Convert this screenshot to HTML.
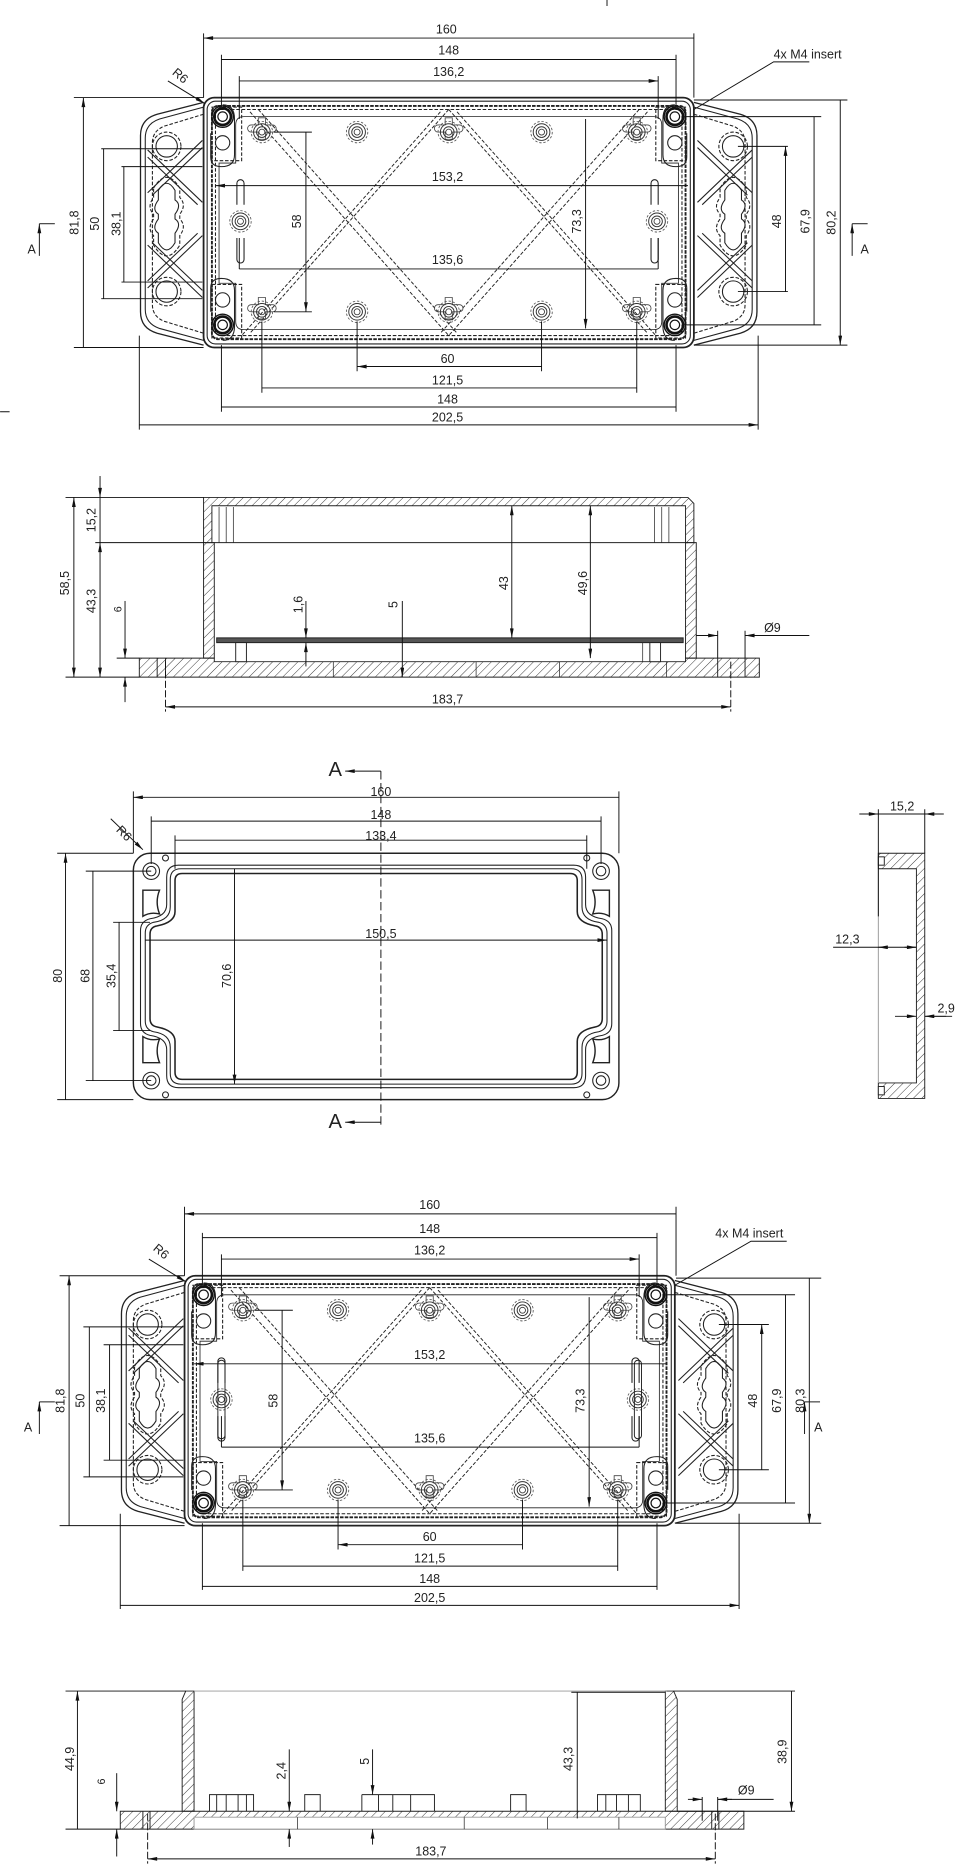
<!DOCTYPE html>
<html><head><meta charset="utf-8"><style>
html,body{margin:0;padding:0;background:#fff}
svg{display:block}
text{font-family:"Liberation Sans",sans-serif;font-size:10.5px;fill:#222}
</style></head><body>
<svg width="976" height="1866" viewBox="0 0 820 1568" xmlns="http://www.w3.org/2000/svg">
<defs>
<marker id="a" viewBox="0 0 10 4" refX="10" refY="2" markerWidth="9" markerHeight="3.2" orient="auto-start-reverse" markerUnits="userSpaceOnUse"><path d="M0,0L10,2L0,4z" fill="#111"/></marker>
<pattern id="h" width="5" height="5" patternUnits="userSpaceOnUse" patternTransform="rotate(45)"><line x1="0" y1="0" x2="0" y2="5" stroke="#333" stroke-width="0.8"/></pattern>
<g id="boss"><circle r="7" fill="none" stroke="#333" stroke-width="0.8"/><circle r="4.5" fill="none" stroke="#333" stroke-width="0.8"/><circle r="2.5" fill="none" stroke="#333" stroke-width="0.7"/><circle r="9" fill="none" stroke="#555" stroke-width="0.7" stroke-dasharray="2 1.5"/></g>
<g id="cboss"><path d="M-3,-12 h6 v6 h6 a3,3 0 0 1 0,6 h-6 v6 h-6 v-6 h-6 a3,3 0 0 1 0,-6 h6z" fill="none" stroke="#444" stroke-width="0.7"/><use href="#boss"/></g>
<g id="ins"><circle r="9" fill="none" stroke="#111" stroke-width="1.2"/><circle r="7" fill="none" stroke="#111" stroke-width="2.2"/><circle r="4" fill="none" stroke="#111" stroke-width="1"/></g>
<g id="plan" fill="none" stroke="#222" stroke-width="0.9">
 <path d="M171,86 L132,96 Q118,100 118,114 L118,262 Q118,276 132,280 L171,290" stroke-width="1.1"/>
 <path d="M171,90 L134,100 Q122,104 122,116 L122,260 Q122,272 134,276 L171,286"/>
 <path d="M171,96 L138,106 Q128,110 128,120 L128,256 Q128,266 138,270 L171,280" stroke-dasharray="3 1.5"/>
 <path d="M583,86 L622,96 Q636,100 636,114 L636,262 Q636,276 622,280 L583,290" stroke-width="1.1"/>
 <path d="M583,90 L620,100 Q632,104 632,116 L632,260 Q632,272 620,276 L583,286"/>
 <path d="M583,96 L616,106 Q626,110 626,120 L626,256 Q626,266 616,270 L583,280" stroke-dasharray="3 1.5"/>
 <circle cx="140" cy="123" r="9"/><circle cx="140" cy="123" r="12" stroke-dasharray="3 1.5"/>
 <circle cx="140" cy="245" r="9"/><circle cx="140" cy="245" r="12" stroke-dasharray="3 1.5"/>
 <circle cx="616" cy="123" r="9"/><circle cx="616" cy="123" r="12" stroke-dasharray="3 1.5"/>
 <circle cx="616" cy="245" r="9"/><circle cx="616" cy="245" r="12" stroke-dasharray="3 1.5"/>
 <path d="M133,160 q7,-12 14,0 v8 q6,4 0,12 v4 q6,4 0,12 v8 q-7,12 -14,0 v-8 q-6,-4 0,-12 v-4 q-6,-4 0,-12z"/>
 <path d="M129,158 q11,-18 22,0 v8 q6,6 0,14 v4 q6,6 0,14 v8 q-11,18 -22,0 v-8 q-6,-6 0,-14 v-4 q-6,-6 0,-14z" stroke-dasharray="3 1.5"/>
 <path d="M609,160 q7,-12 14,0 v8 q6,4 0,12 v4 q6,4 0,12 v8 q-7,12 -14,0 v-8 q-6,-4 0,-12 v-4 q-6,-4 0,-12z"/>
 <path d="M605,158 q11,-18 22,0 v8 q6,6 0,14 v4 q6,6 0,14 v8 q-11,18 -22,0 v-8 q-6,-6 0,-14 v-4 q-6,-6 0,-14z" stroke-dasharray="3 1.5"/>
 <path d="M124,126 L170,170 M124,132 L166,172 M170,118 L124,162 M170,124 L128,164"/>
 <path d="M124,242 L170,198 M124,236 L166,196 M170,250 L124,206 M170,244 L128,204"/>
 <path d="M632,126 L586,170 M632,132 L590,172 M586,118 L632,162 M586,124 L628,164"/>
 <path d="M632,242 L586,198 M632,236 L590,196 M586,250 L632,206 M586,244 L628,204"/>
 <rect x="171" y="82" width="412" height="210" rx="9" stroke-width="1.5"/>
 <rect x="174" y="85" width="406" height="204" rx="7"/>
 <rect x="178" y="89" width="398" height="196" rx="5" stroke-width="1.6" stroke-dasharray="3 1"/>
 <rect x="181" y="92" width="392" height="190" rx="4" stroke-dasharray="3 1.5"/>
 <path d="M205,98 H549 Q556,98 556,105 V137 H570 V238 H556 V270 Q556,277 549,277 H205 Q198,277 198,270 V238 H184 V137 H198 V105 Q198,98 205,98Z" stroke-width="0.7"/>
 <path d="M178,90 h25 v45 h-25z" stroke-dasharray="3 1.5"/><path d="M551,90 h25 v45 h-25z" stroke-dasharray="3 1.5"/>
 <path d="M178,239 h25 v45 h-25z" stroke-dasharray="3 1.5"/><path d="M551,239 h25 v45 h-25z" stroke-dasharray="3 1.5"/>
 <path d="M177,112 V132 Q177,140 186,140 Q197,140 197,130 V100 Q197,88 187,88"/>
 <path d="M577,112 V132 Q577,140 568,140 Q557,140 557,130 V100 Q557,88 567,88"/>
 <path d="M177,262 V242 Q177,234 186,234 Q197,234 197,244 V274 Q197,286 187,286"/>
 <path d="M577,262 V242 Q577,234 568,234 Q557,234 557,244 V274 Q557,286 567,286"/>
 <circle cx="187" cy="120" r="6"/><circle cx="567" cy="120" r="6"/><circle cx="187" cy="252" r="6"/><circle cx="567" cy="252" r="6"/>
 <g stroke-dasharray="3 1.5" stroke-width="0.8">
 <path d="M210,94 L377,282 M217,92 L384,280"/>
 <path d="M544,94 L377,282 M537,92 L370,280"/>
 <path d="M370,94 L203,282 M377,92 L210,280"/>
 <path d="M384,94 L551,282 M377,92 L544,280"/>
 </g>
 <path d="M199,172 v-18 a3,3 0 0 1 6,0 v18 M199,200 v18 a3,3 0 0 0 6,0 v-18"/>
 <path d="M547,172 v-18 a3,3 0 0 1 6,0 v18 M547,200 v18 a3,3 0 0 0 6,0 v-18"/>
</g>
</defs>

<!-- VIEW 1 -->
<use href="#plan"/>
<g>
 <use href="#ins" x="187" y="98"/><use href="#ins" x="567" y="98"/><use href="#ins" x="187" y="273"/><use href="#ins" x="567" y="273"/>
 <use href="#cboss" x="220" y="111"/><use href="#boss" x="300" y="111"/><use href="#cboss" x="377" y="111"/><use href="#boss" x="455" y="111"/><use href="#cboss" x="535" y="111"/>
 <use href="#cboss" x="220" y="262"/><use href="#boss" x="300" y="262"/><use href="#cboss" x="377" y="262"/><use href="#boss" x="455" y="262"/><use href="#cboss" x="535" y="262"/>
 <use href="#boss" x="202" y="186"/><use href="#boss" x="552" y="186"/>
</g>
<g fill="none" stroke="#111" stroke-width="0.8">
 <path d="M171,28V82 M583,28V82 M186,46V90 M568,46V90 M201,64V100 M553,64V100"/>
 <path d="M171,32H583 M186,50H568 M201,68H553" marker-start="url(#a)" marker-end="url(#a)"/>
 <path d="M62,82H171 M85,125H170 M102,140H170 M62,292H171 M85,251H170 M102,237H170 M230,111H262 M230,262H262"/>
 <path d="M70,82V292 M87,125V251 M104,140V237 M257,111V262" marker-start="url(#a)" marker-end="url(#a)"/>
 <path d="M181,156H578 M201,226H553 M492,100V276" marker-start="url(#a)" marker-end="url(#a)"/>
 <path d="M201,226V200 M553,226V200"/>
 <path d="M583,84H712 M575,98H690 M620,123H662 M620,245H662 M575,273H690 M583,290H712"/>
 <path d="M660,123V245 M684,98V273 M706,84V290" marker-start="url(#a)" marker-end="url(#a)"/>
 <path d="M300,270V312 M455,270V312 M220,270V330 M535,270V330 M186,290V346 M568,290V346 M117,282V361 M637,282V361"/>
 <path d="M300,308H455 M220,326H535 M186,342H568 M117,357H637" marker-start="url(#a)" marker-end="url(#a)"/>
 <path d="M141,68L172,87" marker-end="url(#a)"/>
 <path d="M680,52H650 L583,92" />
 <path d="M33,188H46"/><path d="M33,215V188" marker-end="url(#a)"/>
 <path d="M716,188H729"/><path d="M716,215V188" marker-end="url(#a)"/>
 <path d="M0,346H8 M510,0V5"/>
</g>
<g>
 <text x="375" y="28" text-anchor="middle">160</text>
 <text x="377" y="46" text-anchor="middle">148</text>
 <text x="377" y="64" text-anchor="middle">136,2</text>
 <text x="376" y="152" text-anchor="middle">153,2</text>
 <text x="376" y="222" text-anchor="middle">135,6</text>
 <text x="376" y="305" text-anchor="middle">60</text>
 <text x="376" y="323" text-anchor="middle">121,5</text>
 <text x="376" y="339" text-anchor="middle">148</text>
 <text x="376" y="354" text-anchor="middle">202,5</text>
 <text x="650" y="49">4x M4 insert</text>
 <text transform="translate(144,62) rotate(40)">R6</text>
 <text transform="translate(66,187) rotate(-90)" text-anchor="middle">81,8</text>
 <text transform="translate(83,188) rotate(-90)" text-anchor="middle">50</text>
 <text transform="translate(101,188) rotate(-90)" text-anchor="middle">38,1</text>
 <text transform="translate(253,186) rotate(-90)" text-anchor="middle">58</text>
 <text transform="translate(488,186) rotate(-90)" text-anchor="middle">73,3</text>
 <text transform="translate(656,186) rotate(-90)" text-anchor="middle">48</text>
 <text transform="translate(680,186) rotate(-90)" text-anchor="middle">67,9</text>
 <text transform="translate(702,187) rotate(-90)" text-anchor="middle">80,2</text>
 <text x="23" y="213">A</text><text x="723" y="213">A</text>
</g>

<!-- VIEW 2 -->
<g stroke="#222" stroke-width="0.8">
 <path d="M171,418 H578 L583,423 V456 H576 V425 H178 V456 H171Z" fill="url(#h)"/>
 <path d="M171,456 H180 V553 H171Z M576,456 H585 V553 H576Z" fill="url(#h)"/>
 <path d="M117,553 H180 V556 H576 V553 H638 V569 H117Z" fill="url(#h)"/>
 <path d="M182,536 H574 V540 H182Z" fill="#555"/>
 <path d="M132,553V569 M139,553V569 M603,553V569 M626,553V569" fill="none"/>
 <path d="M184,426V456 M190,426V456 M196,426V456 M550,426V456 M556,426V456 M562,426V456" fill="none" stroke-width="0.6"/>
 <path d="M178,456H578" fill="none"/>
 <path d="M200,540V556 M206,540V556 M540,540V556 M546,540V556 M280,556V569 M400,556V569 M470,556V569 M560,556V569" fill="none" stroke-width="0.6"/>
 <rect x="198" y="540" width="9" height="16" fill="#fff"/><rect x="546" y="540" width="9" height="16" fill="#fff"/>
</g>
<g fill="none" stroke="#111" stroke-width="0.8">
 <path d="M55,418H171 M55,569H117 M80,456H171 M98,553H117"/>
 <path d="M62,418V569" marker-start="url(#a)" marker-end="url(#a)"/>
 <path d="M84,400V418" marker-end="url(#a)"/><path d="M84,456V569" marker-start="url(#a)" marker-end="url(#a)"/>
 <path d="M84,418V456"/>
 <path d="M105,505V553" marker-end="url(#a)"/><path d="M105,590V569" marker-end="url(#a)"/>
 <path d="M257,505V536" marker-end="url(#a)"/><path d="M257,560V540" marker-end="url(#a)"/>
 <path d="M338,505V569" marker-end="url(#a)"/>
 <path d="M430,425V536" marker-start="url(#a)" marker-end="url(#a)"/>
 <path d="M496,425V553" marker-start="url(#a)" marker-end="url(#a)"/>
 <path d="M603,530V553 M626,530V553"/>
 <path d="M585,534H603" marker-end="url(#a)"/><path d="M680,534H626" marker-end="url(#a)"/>
 <path d="M139,556V598 M614,556V598" stroke-dasharray="6 2"/>
 <path d="M139,594H614" marker-start="url(#a)" marker-end="url(#a)"/>
</g>
<g>
 <text transform="translate(80,437) rotate(-90)" text-anchor="middle">15,2</text>
 <text transform="translate(58,490) rotate(-90)" text-anchor="middle">58,5</text>
 <text transform="translate(80,505) rotate(-90)" text-anchor="middle">43,3</text>
 <text transform="translate(102,512) rotate(-90)" text-anchor="middle" style="font-size:9px">6</text>
 <text transform="translate(254,508) rotate(-90)" text-anchor="middle">1,6</text>
 <text transform="translate(334,508) rotate(-90)" text-anchor="middle">5</text>
 <text transform="translate(427,490) rotate(-90)" text-anchor="middle">43</text>
 <text transform="translate(493,490) rotate(-90)" text-anchor="middle">49,6</text>
 <text x="642" y="531">Ø9</text>
 <text x="376" y="591" text-anchor="middle">183,7</text>
</g>

<!-- VIEW 3 -->
<g fill="none" stroke="#222" stroke-width="0.9">
 <rect x="112" y="717" width="408" height="207" rx="14" stroke-width="1.2"/>
 <path d="M150,727 H482 Q492,727 492,737 V760 Q492,770 506,772 Q514,774 514,782 V860 Q514,868 506,870 Q492,872 492,882 V904 Q492,914 482,914 H150 Q140,914 140,904 V882 Q140,872 126,870 Q118,868 118,860 V782 Q118,774 126,772 Q140,770 140,760 V737 Q140,727 150,727Z"/>
 <path d="M152,730 H480 Q489,730 489,739 V762 Q489,773 503,775 Q510,777 510,784 V858 Q510,865 503,867 Q489,869 489,880 V902 Q489,911 480,911 H152 Q143,911 143,902 V880 Q143,869 129,867 Q122,865 122,858 V784 Q122,777 129,775 Q143,773 143,762 V739 Q143,730 152,730Z"/>
 <path d="M153,734 H479 Q485,734 485,740 V766 Q485,775 500,778 Q506,779 506,785 V856 Q506,862 500,863 Q485,866 485,875 V901 Q485,907 479,907 H153 Q147,907 147,901 V875 Q147,866 132,863 Q126,862 126,856 V785 Q126,779 132,778 Q147,775 147,766 V740 Q147,734 153,734Z" stroke-width="1.3"/>
 <circle cx="127" cy="732" r="7"/><circle cx="127" cy="732" r="4"/><circle cx="505" cy="732" r="7"/><circle cx="505" cy="732" r="4"/>
 <circle cx="127" cy="908" r="7"/><circle cx="127" cy="908" r="4"/><circle cx="505" cy="908" r="7"/><circle cx="505" cy="908" r="4"/>
 <circle cx="139" cy="721" r="2.5"/><circle cx="493" cy="721" r="2.5"/><circle cx="139" cy="920" r="2.5"/><circle cx="493" cy="920" r="2.5"/>
 <path d="M120,748 H134 Q130,758 134,768 Q126,766 120,770Z" stroke-width="1.2"/>
 <path d="M512,748 H498 Q502,758 498,768 Q506,766 512,770Z" stroke-width="1.2"/>
 <path d="M120,893 H134 Q130,883 134,873 Q126,875 120,871Z" stroke-width="1.2"/>
 <path d="M512,893 H498 Q502,883 498,873 Q506,875 512,871Z" stroke-width="1.2"/>
</g>
<g fill="none" stroke="#111" stroke-width="0.8">
 <path d="M320,648V945" stroke-dasharray="7 3"/>
 <path d="M320,648H290" marker-end="url(#a)"/><path d="M320,943H290" marker-end="url(#a)"/>
 <path d="M112,665V717 M520,665V717 M127,686V726 M505,686V726 M147,702V730 M493,702V730"/>
 <path d="M112,670H520 M127,690H505 M147,706H493 M122,790H510" marker-start="url(#a)" marker-end="url(#a)"/>
 <path d="M48,717H112 M48,924H112 M72,732H127 M72,908H127 M95,775H126 M95,866H126"/>
 <path d="M55,717V924 M78,732V908 M100,775V866 M197,730V911" marker-start="url(#a)" marker-end="url(#a)"/>
 <path d="M93,688L120,714" marker-end="url(#a)"/>
</g>
<g>
 <text x="276" y="652" style="font-size:17px">A</text>
 <text x="276" y="948" style="font-size:17px">A</text>
 <text x="320" y="669" text-anchor="middle">160</text>
 <text x="320" y="688" text-anchor="middle">148</text>
 <text x="320" y="706" text-anchor="middle">133,4</text>
 <text x="320" y="788" text-anchor="middle">150,5</text>
 <text transform="translate(52,820) rotate(-90)" text-anchor="middle">80</text>
 <text transform="translate(75,820) rotate(-90)" text-anchor="middle">68</text>
 <text transform="translate(97,820) rotate(-90)" text-anchor="middle">35,4</text>
 <text transform="translate(194,820) rotate(-90)" text-anchor="middle">70,6</text>
 <text transform="translate(97,698) rotate(45)">R6</text>
</g>

<!-- VIEW 4 -->
<g stroke="#222" stroke-width="0.8">
 <path d="M738,717 H777 V923 H738 V910 H770 V730 H738Z" fill="url(#h)"/>
 <rect x="738" y="720" width="5" height="7" fill="#fff"/><rect x="738" y="913" width="5" height="7" fill="#fff"/>
 <path d="M738,730V910" stroke="#999" fill="none"/>
</g>
<g fill="none" stroke="#111" stroke-width="0.8">
 <path d="M738,680V770 M777,680V717"/>
 <path d="M722,684H738" marker-end="url(#a)"/><path d="M793,684H777" marker-end="url(#a)"/><path d="M738,684H777"/>
 <path d="M700,796H738 M738,796H770" /><path d="M745,796H738" marker-end="url(#a)"/><path d="M760,796H770" marker-end="url(#a)"/>
 <path d="M752,854H770" marker-end="url(#a)"/><path d="M795,854H777" marker-end="url(#a)"/><path d="M777,854H800"/>
</g>
<g>
 <text x="758" y="681" text-anchor="middle">15,2</text>
 <text x="712" y="793" text-anchor="middle">12,3</text>
 <text x="795" y="851" text-anchor="middle">2,9</text>
</g>

<!-- VIEW 5 -->
<g transform="translate(-16,990)">
 <use href="#plan"/>
 <use href="#ins" x="187" y="98"/><use href="#ins" x="567" y="98"/><use href="#ins" x="187" y="273"/><use href="#ins" x="567" y="273"/>
 <use href="#cboss" x="220" y="111"/><use href="#boss" x="300" y="111"/><use href="#cboss" x="377" y="111"/><use href="#boss" x="455" y="111"/><use href="#cboss" x="535" y="111"/>
 <use href="#cboss" x="220" y="262"/><use href="#boss" x="300" y="262"/><use href="#cboss" x="377" y="262"/><use href="#boss" x="455" y="262"/><use href="#cboss" x="535" y="262"/>
 <use href="#boss" x="202" y="186"/><use href="#boss" x="552" y="186"/>
 <path d="M199,186 V156 a3,3 0 0 1 6,0 V216 a3,3 0 0 1 -6,0Z M549,186 V156 a3,3 0 0 1 6,0 V216 a3,3 0 0 1 -6,0Z" fill="none" stroke="#222" stroke-width="0.8"/>
</g>
<g fill="none" stroke="#111" stroke-width="0.8">
 <path d="M155,1014V1072 M568,1014V1072 M170,1036V1080 M552,1036V1080 M186,1054V1090 M537,1054V1090"/>
 <path d="M155,1020H568 M170,1040H552 M186,1058H537" marker-start="url(#a)" marker-end="url(#a)"/>
 <path d="M50,1072H155 M50,1282H155 M70,1115H154 M70,1241H154 M87,1130H154 M87,1227H154 M214,1101H246 M214,1252H246"/>
 <path d="M58,1072V1282 M75,1115V1241 M92,1130V1227 M237,1101V1252" marker-start="url(#a)" marker-end="url(#a)"/>
 <path d="M163,1146H560 M186,1216H537 M495,1090V1266" marker-start="url(#a)" marker-end="url(#a)"/>
 <path d="M186,1216V1190 M537,1216V1190"/>
 <path d="M568,1074H690 M559,1088H668 M604,1113H646 M604,1235H646 M559,1263H668 M568,1280H690"/>
 <path d="M640,1113V1235 M660,1088V1263 M680,1074V1280" marker-start="url(#a)" marker-end="url(#a)"/>
 <path d="M284,1260V1302 M439,1260V1302 M204,1260V1320 M519,1260V1320 M170,1280V1336 M552,1280V1336 M101,1272V1352 M621,1272V1352"/>
 <path d="M284,1298H439 M204,1316H519 M170,1333H552 M101,1349H621" marker-start="url(#a)" marker-end="url(#a)"/>
 <path d="M125,1058L156,1077" marker-end="url(#a)"/>
 <path d="M661,1043H631 L567,1080"/>
 <path d="M33,1178H46"/><path d="M33,1205V1178" marker-end="url(#a)"/>
 <path d="M676,1178H689"/><path d="M676,1205V1178" marker-end="url(#a)"/>
</g>
<g>
 <text x="361" y="1016" text-anchor="middle">160</text>
 <text x="361" y="1036" text-anchor="middle">148</text>
 <text x="361" y="1054" text-anchor="middle">136,2</text>
 <text x="361" y="1142" text-anchor="middle">153,2</text>
 <text x="361" y="1212" text-anchor="middle">135,6</text>
 <text x="361" y="1295" text-anchor="middle">60</text>
 <text x="361" y="1313" text-anchor="middle">121,5</text>
 <text x="361" y="1330" text-anchor="middle">148</text>
 <text x="361" y="1346" text-anchor="middle">202,5</text>
 <text x="601" y="1040">4x M4 insert</text>
 <text transform="translate(128,1050) rotate(40)">R6</text>
 <text transform="translate(54,1177) rotate(-90)" text-anchor="middle">81,8</text>
 <text transform="translate(71,1177) rotate(-90)" text-anchor="middle">50</text>
 <text transform="translate(88,1177) rotate(-90)" text-anchor="middle">38,1</text>
 <text transform="translate(233,1177) rotate(-90)" text-anchor="middle">58</text>
 <text transform="translate(491,1177) rotate(-90)" text-anchor="middle">73,3</text>
 <text transform="translate(636,1177) rotate(-90)" text-anchor="middle">48</text>
 <text transform="translate(656,1177) rotate(-90)" text-anchor="middle">67,9</text>
 <text transform="translate(676,1177) rotate(-90)" text-anchor="middle">80,3</text>
 <text x="20" y="1203">A</text><text x="684" y="1203">A</text>
</g>

<!-- VIEW 6 -->
<g stroke="#222" stroke-width="0.8">
 <path d="M156,1421 H163 V1522 H153 V1428 Z" fill="url(#h)"/>
 <path d="M559,1421 H566 L569,1428 V1522 H559Z" fill="url(#h)"/>
 <path d="M101,1522 H625 V1537 H101Z" fill="url(#h)"/>
 <path d="M163,1527 H559 V1537 H163Z" fill="#fff" stroke="#999"/>
 <path d="M120,1522V1537 M126,1522V1537 M598,1522V1537 M604,1522V1537" fill="none"/>
 <path d="M163,1421H560" stroke="#999" fill="none"/>
 <path d="M176,1522V1508H213V1522 M182,1508V1522 M190,1508V1522 M200,1508V1522 M207,1508V1522" fill="none"/>
 <path d="M256,1522V1508H269V1522 M304,1508H365V1522 M318,1508V1522 M330,1508V1522 M345,1508V1522 M304,1508V1522" fill="none"/>
 <path d="M429,1522V1508H442V1522 M502,1522V1508H538V1522 M509,1508V1522 M518,1508V1522 M528,1508V1522" fill="none"/>
 <path d="M250,1527V1537 M390,1527V1537 M460,1527V1537 M520,1527V1537" fill="none" stroke-width="0.6"/>
</g>
<g fill="none" stroke="#111" stroke-width="0.8">
 <path d="M55,1421H156 M55,1537H101 M480,1422H559 M566,1421H668 M569,1522H668"/>
 <path d="M65,1421V1537 M485,1422V1528 M665,1421V1522" marker-start="url(#a)" marker-end="url(#a)"/>
 <path d="M98,1490V1522" marker-end="url(#a)"/><path d="M98,1560V1537" marker-end="url(#a)"/>
 <path d="M243,1470V1522" marker-end="url(#a)"/><path d="M243,1552V1537" marker-end="url(#a)"/>
 <path d="M313,1470V1508" marker-end="url(#a)"/><path d="M313,1550V1537" marker-end="url(#a)"/>
 <path d="M590,1510V1530 M603,1510V1530"/>
 <path d="M578,1512H590" marker-end="url(#a)"/><path d="M615,1512H603" marker-end="url(#a)"/><path d="M603,1512H650"/>
 <path d="M124,1524V1566 M601,1524V1566" stroke-dasharray="6 2"/>
 <path d="M124,1562H601" marker-start="url(#a)" marker-end="url(#a)"/>
</g>
<g>
 <text transform="translate(62,1478) rotate(-90)" text-anchor="middle">44,9</text>
 <text transform="translate(88,1497) rotate(-90)" text-anchor="middle" style="font-size:9px">6</text>
 <text transform="translate(240,1488) rotate(-90)" text-anchor="middle">2,4</text>
 <text transform="translate(310,1480) rotate(-90)" text-anchor="middle">5</text>
 <text transform="translate(481,1478) rotate(-90)" text-anchor="middle">43,3</text>
 <text transform="translate(661,1472) rotate(-90)" text-anchor="middle">38,9</text>
 <text x="620" y="1508">Ø9</text>
 <text x="362" y="1559" text-anchor="middle">183,7</text>
</g>
</svg>
</body></html>
